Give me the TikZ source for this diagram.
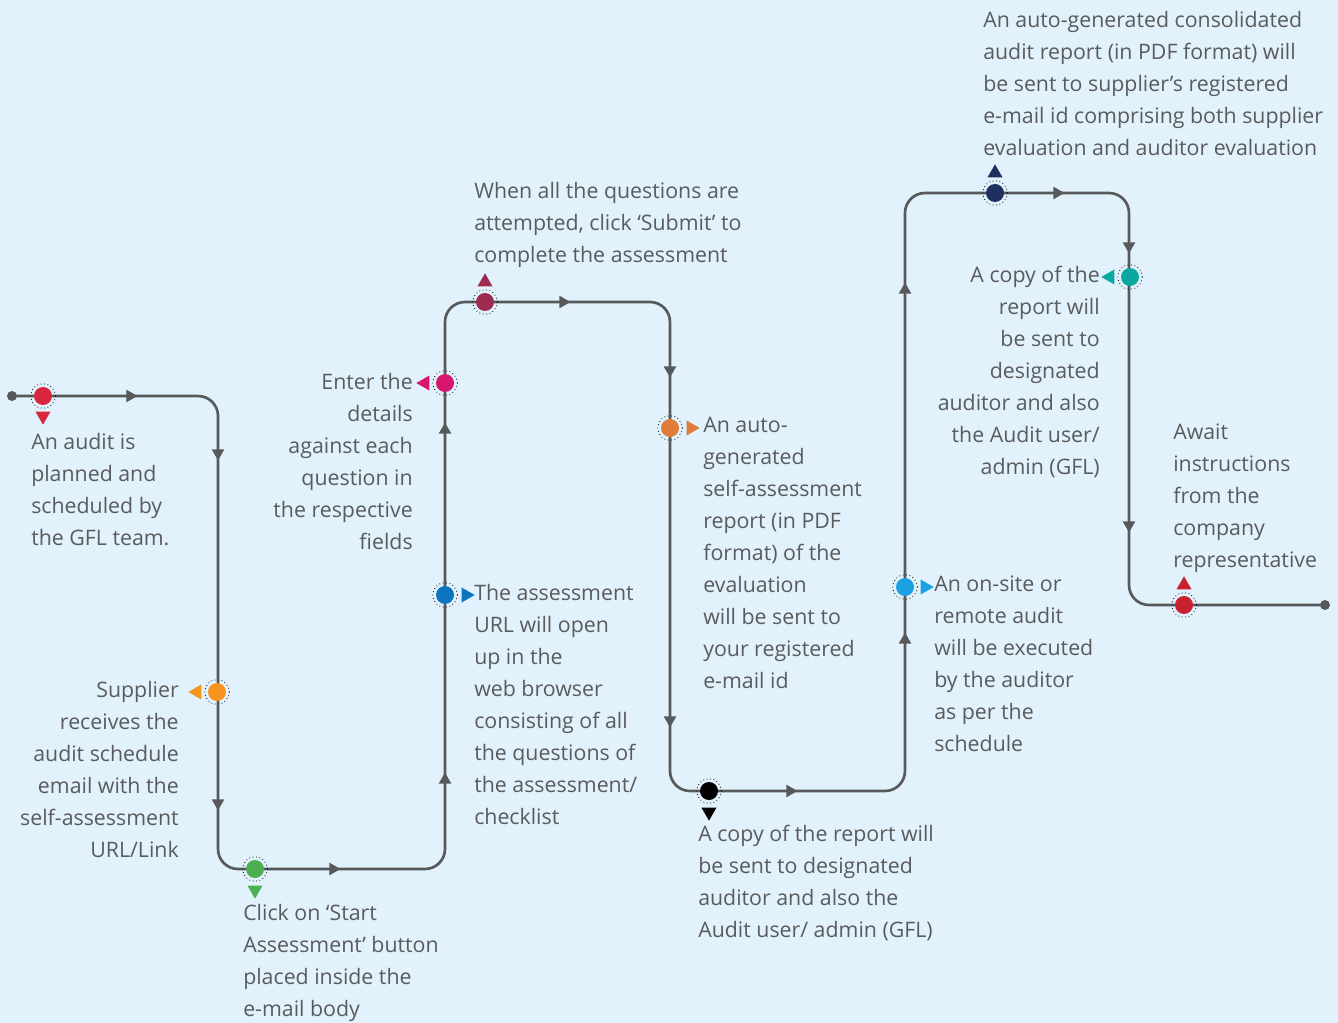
\documentclass[tikz,border=0pt]{standalone}
\usepackage{fontspec}
\setmainfont{Open Sans}
\usetikzlibrary{shapes.geometric,calc}
\definecolor{bgblue}{HTML}{E1F2FC}
\definecolor{linegray}{HTML}{58595B}
\definecolor{txtgray}{HTML}{5A5B5D}
\definecolor{cplan}{HTML}{D7263D}
\definecolor{cmail}{HTML}{F7941D}
\definecolor{cstart}{HTML}{4CAF50}
\definecolor{center}{HTML}{D6166F}
\definecolor{csubmit}{HTML}{9E2B4F}
\definecolor{curl}{HTML}{0C75BD}
\definecolor{cself}{HTML}{E07B39}
\definecolor{ccopy}{HTML}{000000}
\definecolor{consite}{HTML}{1BA1E2}
\definecolor{cconsol}{HTML}{1F3060}
\definecolor{ccopyb}{HTML}{0AA89E}
\definecolor{cawait}{HTML}{C8202F}
\tikzstyle{flow}=[draw=linegray,line width=2pt,rounded corners=15pt]
\tikzstyle{stop}=[circle,inner sep=0,minimum size=13.5pt]
\tikzstyle{ring}=[circle,draw=black,dotted,line width=0.6pt,inner sep=0,minimum size=18.5pt]
\tikzstyle{tip}=[regular polygon,regular polygon sides=3,inner sep=0,minimum size=11pt,fill=linegray]
\tikzstyle{flag}=[regular polygon,regular polygon sides=3,inner sep=0,minimum size=13pt]
\tikzstyle{note}=[text=txtgray,font=\fontsize{16pt}{24pt}\selectfont,inner sep=0]
\tikzstyle{endpt}=[circle,fill=linegray,inner sep=0,minimum size=7.5pt]
\begin{document}
\begin{tikzpicture}[x=0.75pt,y=-0.75pt]

  \fill[bgblue] (0,0) rectangle (1338,1023);
  \useasboundingbox (0,0) rectangle (1338,1023);

  \node[endpt] (begin) at (12,396) {};
  \node[endpt] (finish) at (1325,605) {};
  \coordinate (k1) at (218,396);
  \coordinate (k2) at (218,869);
  \coordinate (k3) at (445,869);
  \coordinate (k4) at (445,302);
  \coordinate (k5) at (670,302);
  \coordinate (k6) at (670,791);
  \coordinate (k7) at (905,791);
  \coordinate (k8) at (905,193);
  \coordinate (k9) at (1129,193);
  \coordinate (k10) at (1129,605);

  \draw[flow] (begin.center) -- (k1) -- (k2) -- (k3) -- (k4) -- (k5) -- (k6)
    -- (k7) -- (k8) -- (k9) -- (k10) -- (finish.center);

  % arrow heads along the way
  \foreach \x/\y/\r in {130/396/-90,218/453/180,218/803/180,333/869/-90,
    445/780/0,445/430/0,563/302/-90,670/370/180,670/720/180,790/791/-90,
    905/640/0,905/290/0,1057/193/-90,1129/246/180,1129/525/180}
    \node[tip,rotate=\r] at (\x,\y) {};

  % stops
  \foreach \n/\x/\y/\c in {plan/43/396/cplan,mail/217/692/cmail,
    start/255/869/cstart,enter/445/383/center,submit/485/302/csubmit,
    url/445/595/curl,selfrep/670/428/cself,copy/709/791/ccopy,
    onsite/905/587/consite,consol/995/193/cconsol,copyb/1130/277/ccopyb,
    await/1184/605/cawait}{
    \node[ring] at (\x,\y) {};
    \node[stop,fill=\c] (\n) at (\x,\y) {};
  }

  \node[flag,fill=cplan,rotate=180] at ($(plan)+(0,20)$) {};
  \node[flag,fill=cmail,rotate=90] at ($(mail)+(-20,0)$) {};
  \node[flag,fill=cstart,rotate=180] at ($(start)+(0,21)$) {};
  \node[flag,fill=center,rotate=90] at ($(enter)+(-20,0)$) {};
  \node[flag,fill=csubmit] at ($(submit)+(0,-20)$) {};
  \node[flag,fill=curl,rotate=-90] at ($(url)+(21,0)$) {};
  \node[flag,fill=cself,rotate=-90] at ($(selfrep)+(21,0)$) {};
  \node[flag,fill=ccopy,rotate=180] at ($(copy)+(0,21)$) {};
  \node[flag,fill=consite,rotate=-90] at ($(onsite)+(20,0)$) {};
  \node[flag,fill=cconsol] at ($(consol)+(0,-20)$) {};
  \node[flag,fill=ccopyb,rotate=90] at ($(copyb)+(-20,0)$) {};
  \node[flag,fill=cawait] at ($(await)+(0,-20)$) {};

  % texts
  \node[note,anchor=north west,align=left] (planT) at (31,433)
    {An audit is\\planned and\\scheduled by\\the GFL team.};
  \node[note,anchor=north east,align=right] (mailT) at (179,681)
    {Supplier\\receives the\\audit schedule\\email with the\\self-assessment\\URL/Link};
  \node[note,anchor=north west,align=left] (startT) at (243,904)
    {Click on ‘Start\\Assessment’ button\\placed inside the\\e-mail body};
  \node[note,anchor=north east,align=right] (enterT) at (413,373)
    {Enter the\\details\\against each\\question in\\the respective\\fields};
  \node[note,anchor=north west,align=left] (submitT) at (474,182)
    {When all the questions are\\attempted, click ‘Submit’ to\\complete the assessment};
  \node[note,anchor=north west,align=left] (urlT) at (474,584)
    {The assessment\\URL will open\\up in the\\web browser\\consisting of all\\the questions of\\the assessment/\\checklist};
  \node[note,anchor=north west,align=left] (selfrepT) at (703,417)
    {An auto-\\generated\\self-assessment\\report (in PDF\\format) of the\\evaluation\\will be sent to\\your registered\\e-mail id};
  \node[note,anchor=north west,align=left] (copyT) at (698,825)
    {A copy of the report will\\be sent to designated\\auditor and also the\\Audit user/ admin (GFL)};
  \node[note,anchor=north west,align=left] (onsiteT) at (934,576)
    {An on-site or\\remote audit\\will be executed\\by the auditor\\as per the\\schedule};
  \node[note,anchor=north east,align=right] (copybT) at (1100,266)
    {A copy of the\\report will\\be sent to\\designated\\auditor and also\\the Audit user/\\admin (GFL)};
  \node[note,anchor=north west,align=left] (consolT) at (983,11)
    {An auto-generated consolidated\\audit report (in PDF format) will\\be sent to supplier’s registered\\e-mail id comprising both supplier\\evaluation and auditor evaluation};
  \node[note,anchor=north west,align=left] (awaitT) at (1173,424)
    {Await\\instructions\\from the\\company\\representative};

\end{tikzpicture}
\end{document}
